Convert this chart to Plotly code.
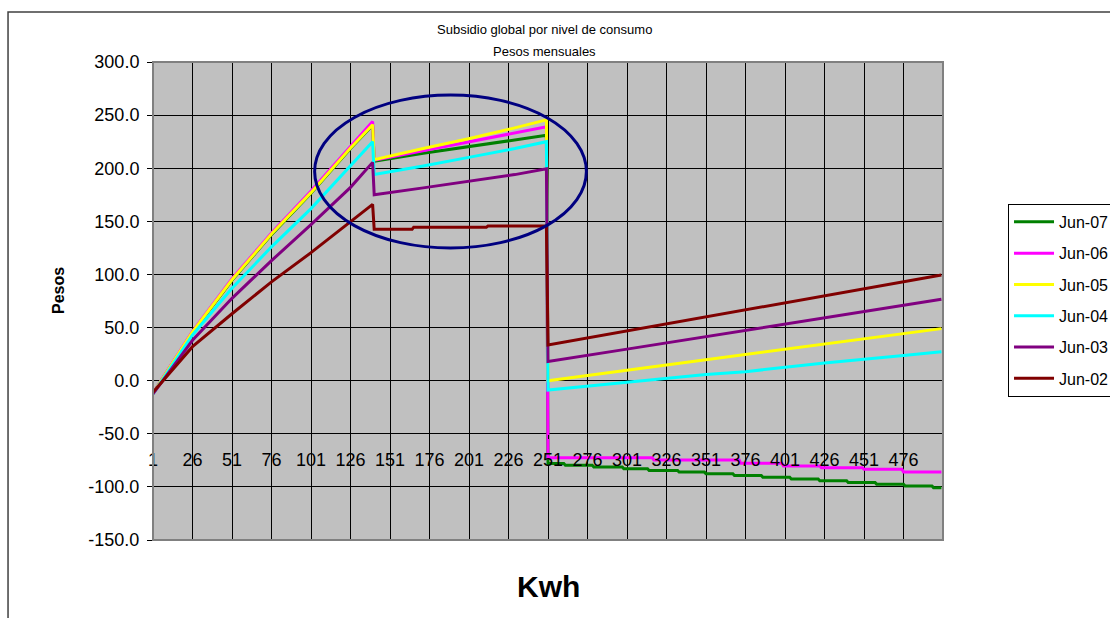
import plotly.graph_objects as go

FONT = "Liberation Sans, Arial, sans-serif"

# kWh consumption points at which each series is sampled
kwh = [1, 26, 51, 76, 101, 126, 140,
       141, 172, 200, 230, 250,
       251, 301, 351, 376, 426, 476, 500]

jun05 = [-12, 46, 95, 138, 177, 219, 241,
         208, 218.5, 227.5, 238, 245.5,
         0, 9.8, 19.7, 24.2, 34.4, 44.3, 49]
jun04 = [-12.5, 43, 87, 126, 162, 202, 225,
         194, 202, 210, 218.5, 225,
         -8.8, -1.5, 5.7, 8.5, 16.6, 23.8, 27.3]
jun03 = [-12.5, 38, 77.5, 113, 147, 182, 205.5,
         175, 181.5, 187.5, 194, 199.5,
         18, 29.7, 41.5, 47.5, 59.3, 71, 76.6]

# Jun-07 falls in small steps above 250 kWh
kwh_jun07 = [1, 26, 51, 76, 101, 126, 140,
             141, 172, 200, 230, 250,
             251, 261, 262, 279, 280, 298, 299, 314, 315, 333, 334, 350, 351,
             368, 369, 386, 387, 404, 405, 422, 423, 440, 441, 458, 459,
             476, 477, 494, 495, 500]
jun07 = [-12, 45.5, 94.5, 137.5, 176.5, 218.5, 240.5,
         206.5, 214, 220, 226.5, 231,
         -78, -78, -79.6, -79.6, -81.2, -81.2, -82.9, -82.9, -84.5, -84.5,
         -86.1, -86.1, -87.7, -87.7, -89.3, -89.3, -91, -91, -92.6, -92.6,
         -94.2, -94.2, -95.8, -95.8, -97.4, -97.4, -99.1, -99.1, -100.7, -100.7]

# Jun-06 also falls in steps above 250 kWh
kwh_jun06 = [1, 26, 51, 76, 101, 126, 140,
             141, 172, 200, 230, 250,
             251, 317, 318, 372, 373, 399, 400, 423, 424, 450, 451, 475, 476, 500]
jun06 = [-12, 46.5, 96, 139, 178.5, 221, 244,
         207.5, 216.5, 224, 233, 239,
         -72.5, -72.5, -74.7, -74.7, -77.8, -77.8, -80.3, -80.3,
         -81.9, -81.9, -83.4, -83.4, -86, -86]

# Jun-02 is nearly flat in the middle block, with two small steps
kwh_jun02 = [1, 26, 51, 76, 101, 126, 140,
             141, 165, 166, 212, 213, 250,
             251, 301, 351, 376, 426, 476, 500]
jun02 = [-11, 32, 63, 93, 120.5, 150, 166,
         142.5, 142.5, 144.5, 144.5, 145.5, 145.5,
         33.6, 46.8, 60, 67, 80, 93.2, 99.5]

series = [
    ("Jun-07", "#008000", kwh_jun07, jun07),
    ("Jun-06", "#FF00FF", kwh_jun06, jun06),
    ("Jun-05", "#FFFF00", kwh, jun05),
    ("Jun-04", "#00FFFF", kwh, jun04),
    ("Jun-03", "#800080", kwh, jun03),
    ("Jun-02", "#800000", kwh_jun02, jun02),
]

x_ticks = list(range(1, 500, 25))
y_ticks = list(range(-150, 301, 50))

fig = go.Figure()
for name, color, xs, ys in series:
    fig.add_trace(go.Scatter(
        x=xs, y=ys, mode="lines", name=name, legendgroup=name,
        line=dict(color=color, width=3),
    ))

Y_MIN, Y_MAX = -150, 300

fig.update_layout(
    width=1110, height=618,
    margin=dict(l=153, r=167, t=62, b=78, autoexpand=False),
    paper_bgcolor="white",
    plot_bgcolor="#C0C0C0",
    font=dict(family=FONT, color="black", size=18),
    showlegend=True,
    legend=dict(
        x=1.0823, y=0.703, xanchor="left", yanchor="top",
        bgcolor="white", bordercolor="black", borderwidth=1,
        font=dict(family=FONT, size=16, color="black"),
        tracegroupgap=7.5, itemwidth=40,
    ),
    xaxis=dict(
        range=[1, 501], tickmode="array", tickvals=x_ticks,
        ticktext=[str(t) for t in x_ticks],
        showgrid=True, gridcolor="black", gridwidth=1,
        zeroline=False, showline=False,
        anchor="free", position=(-50 - Y_MIN) / (Y_MAX - Y_MIN),
        ticks="outside", ticklen=4, tickcolor="black",
        ticklabelstandoff=6,
        tickfont=dict(family=FONT, size=18, color="black"),
        automargin=False,
    ),
    yaxis=dict(
        range=[Y_MIN, Y_MAX], tickmode="array", tickvals=y_ticks,
        ticktext=[f"{v:.1f}" for v in y_ticks],
        showgrid=True, gridcolor="black", gridwidth=1,
        zeroline=False, showline=False,
        ticks="outside", ticklen=5, tickcolor="black",
        ticklabelstandoff=4,
        tickfont=dict(family=FONT, size=18, color="black"),
        automargin=False,
    ),
    shapes=[
        # plot-area frame
        dict(type="rect", xref="paper", yref="paper", x0=0, x1=1, y0=0, y1=1,
             line=dict(color="#808080", width=2), layer="above"),
        # outer chart frame
        dict(type="rect", xref="paper", yref="paper",
             x0=-0.1835, x1=1.35, y0=-0.35, y1=1.1046,
             line=dict(color="#404040", width=1.5), layer="below"),
        # highlight around the middle consumption block
        dict(type="circle", xref="x", yref="y",
             x0=103.3, x1=275.3, y0=124.9, y1=268.9,
             line=dict(color="#000080", width=3)),
    ],
    annotations=[
        dict(text="Subsidio global por nivel de consumo", xref="paper", yref="paper",
             x=0.496, y=1.069, showarrow=False, xanchor="center", yanchor="middle",
             font=dict(family=FONT, size=13, color="black")),
        dict(text="Pesos mensuales", xref="paper", yref="paper",
             x=0.496, y=1.021, showarrow=False, xanchor="center", yanchor="middle",
             font=dict(family=FONT, size=13, color="black")),
        dict(text="<b>Pesos</b>", xref="paper", yref="paper",
             x=-0.1203, y=0.523, showarrow=False, textangle=-90,
             xanchor="center", yanchor="middle",
             font=dict(family=FONT, size=16, color="black")),
        dict(text="<b>Kwh</b>", xref="paper", yref="paper",
             x=0.5, y=-0.098, showarrow=False, xanchor="center", yanchor="middle",
             font=dict(family=FONT, size=30, color="black")),
    ],
)

fig.write_html("out.html")
